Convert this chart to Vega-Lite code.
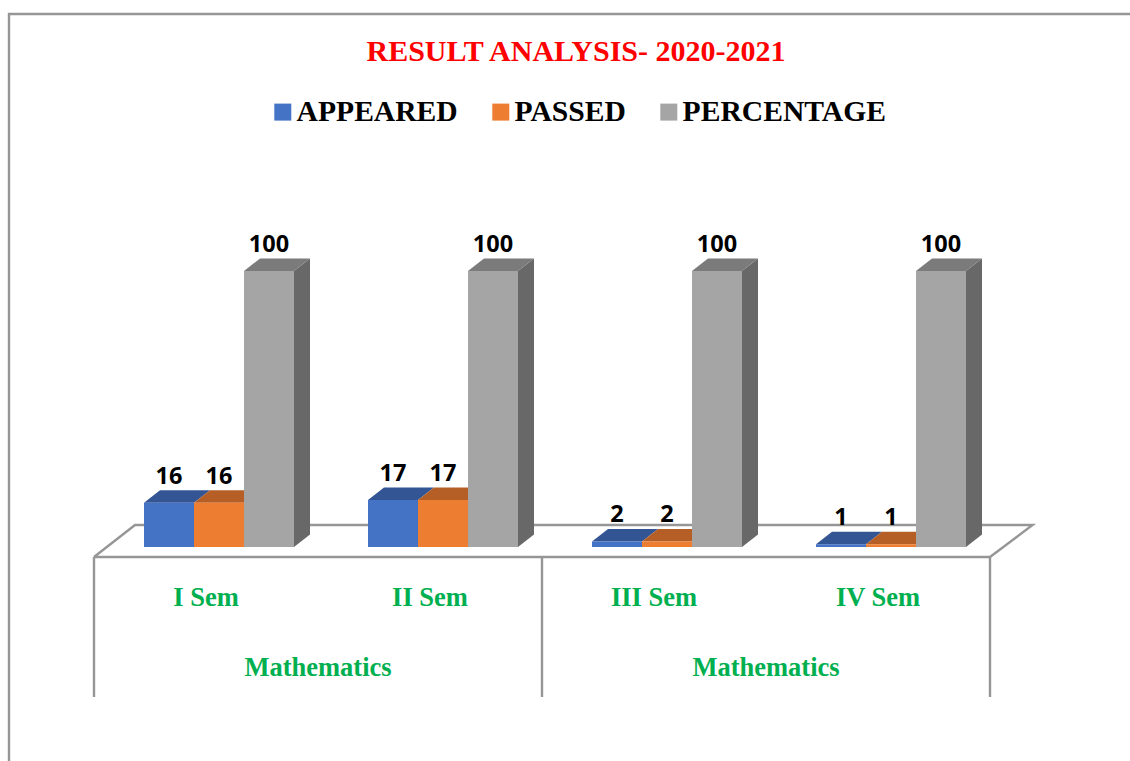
{"$schema":"https://vega.github.io/schema/vega-lite/v6.json","width":1130,"height":761,"padding":0,"autosize":{"type":"none"},"background":"white","config":{"view":{"stroke":null}},
"title":{"text":"RESULT ANALYSIS- 2020-2021","font":"Liberation Serif","fontWeight":"bold","fontSize":30,"color":"#FF0000","anchor":"middle","dx":11,"dy":67,"offset":0},
"datasets":{"bars":[
{"sem":"I Sem","series":"APPEARED","value":16},{"sem":"I Sem","series":"PASSED","value":16},{"sem":"I Sem","series":"PERCENTAGE","value":100},
{"sem":"II Sem","series":"APPEARED","value":17},{"sem":"II Sem","series":"PASSED","value":17},{"sem":"II Sem","series":"PERCENTAGE","value":100},
{"sem":"III Sem","series":"APPEARED","value":2},{"sem":"III Sem","series":"PASSED","value":2},{"sem":"III Sem","series":"PERCENTAGE","value":100},
{"sem":"IV Sem","series":"APPEARED","value":1},{"sem":"IV Sem","series":"PASSED","value":1},{"sem":"IV Sem","series":"PERCENTAGE","value":100}],
"outline":[
{"part":"frame","i":1,"slot":4.625,"v":193.12},{"part":"frame","i":2,"slot":-0.3795,"v":193.12},{"part":"frame","i":3,"slot":-0.3795,"v":-77.54},
{"part":"floor","i":1,"slot":0,"v":-3.62},{"part":"floor","i":2,"slot":4,"v":-3.62},{"part":"floor","i":3,"slot":4.19,"v":7.97},{"part":"floor","i":4,"slot":0.183,"v":7.97},{"part":"floor","i":5,"slot":0,"v":-3.62}],
"dividers":[{"slot":0,"v":-3.62,"v2":-54.35},{"slot":2,"v":-3.62,"v2":-54.35},{"slot":4,"v":-3.62,"v2":-54.35}],
"groups":[{"slot":1,"label":"Mathematics"},{"slot":3,"label":"Mathematics"}]},
"encoding":{},
"layer":[
{"data":{"name":"outline"},"mark":{"type":"line","stroke":"#969696","strokeWidth":2.4,"clip":false},
"encoding":{"x":{"field":"slot","type":"quantitative","scale":{"domain":[-0.41964,4.625],"nice":false,"zero":false},"axis":null},"y":{"field":"v","type":"quantitative","scale":{"domain":[-77.54,198.19],"nice":false,"zero":false},"axis":null},"detail":{"field":"part"},"order":{"field":"i","type":"ordinal"}}},
{"data":{"name":"dividers"},"mark":{"type":"rule","stroke":"#969696","strokeWidth":2.4},
"encoding":{"x":{"field":"slot","type":"quantitative","scale":{"domain":[-0.41964,4.625],"nice":false,"zero":false},"axis":null},"y":{"field":"v","type":"quantitative","scale":{"domain":[-77.54,198.19],"nice":false,"zero":false},"axis":null},"y2":{"field":"v2"}}},
{"data":{"name":"groups"},"mark":{"type":"text","font":"Liberation Serif","fontWeight":"bold","fontSize":26.5,"color":"#00B050","baseline":"middle"},
"encoding":{"x":{"field":"slot","type":"quantitative","scale":{"domain":[-0.41964,4.625],"nice":false,"zero":false},"axis":null},"y":{"datum":-43.9,"type":"quantitative","scale":{"domain":[-77.54,198.19],"nice":false,"zero":false},"axis":null},"text":{"field":"label"}}},
{"data":{"name":"bars"},"transform":[{"filter":"datum.series==='PERCENTAGE'"}],"mark":{"type":"point","filled":true,"opacity":1,"size":10000,"strokeWidth":0,"color":"#686868","shape":"M0.5,0 L0.82,-0.25 L0.82,5.27 L0.5,5.52 Z"},
"encoding":{"x":{"field":"sem","type":"nominal","bandPosition":0.5,"scale":{"type":"band","domain":["I Sem","II Sem","III Sem","IV Sem"],"paddingInner":0,"paddingOuter":0.5223,"align":0.4017},"axis":null},"xOffset":{"field":"series","type":"nominal","bandPosition":0.5,"scale":{"type":"band","domain":["APPEARED","PASSED","PERCENTAGE"],"paddingInner":0,"paddingOuter":0.74,"align":0.6757}},"y":{"field":"value","type":"quantitative","scale":{"domain":[-77.54,198.19],"nice":false,"zero":false},"axis":null}}},
{"data":{"name":"bars"},"mark":{"type":"point","filled":true,"opacity":1,"size":10000,"strokeWidth":0,"shape":"M-0.5,0 L0.5,0 L0.82,-0.25 L-0.18,-0.25 Z"},
"encoding":{"x":{"field":"sem","type":"nominal","bandPosition":0.5,"scale":{"type":"band","domain":["I Sem","II Sem","III Sem","IV Sem"],"paddingInner":0,"paddingOuter":0.5223,"align":0.4017},"axis":null},"xOffset":{"field":"series","type":"nominal","bandPosition":0.5,"scale":{"type":"band","domain":["APPEARED","PASSED","PERCENTAGE"],"paddingInner":0,"paddingOuter":0.74,"align":0.6757}},"y":{"field":"value","type":"quantitative","scale":{"domain":[-77.54,198.19],"nice":false,"zero":false},"axis":null},"color":{"field":"series","type":"nominal","scale":{"domain":["APPEARED","PASSED","PERCENTAGE"],"range":["#335593","#B55F26","#7B7B7B"]},"legend":null}}},
{"data":{"name":"bars"},"mark":{"type":"bar"},
"encoding":{"x":{"field":"sem","type":"nominal","scale":{"domain":["I Sem","II Sem","III Sem","IV Sem"],"paddingInner":0,"paddingOuter":0.5223,"align":0.4017},"axis":{"title":null,"domain":false,"ticks":false,"grid":false,"labelAngle":0,"labelFont":"Liberation Serif","labelFontWeight":"bold","labelFontSize":26.5,"labelColor":"#00B050","labelPadding":-177}},"xOffset":{"field":"series","type":"nominal","scale":{"domain":["APPEARED","PASSED","PERCENTAGE"],"paddingInner":0,"paddingOuter":0.74,"align":0.6757}},"y":{"field":"value","type":"quantitative","scale":{"domain":[-77.54,198.19],"nice":false,"zero":false},"axis":null},"color":{"field":"series","type":"nominal","scale":{"domain":["APPEARED","PASSED","PERCENTAGE"],"range":["#4472C4","#ED7D31","#A5A5A5"]},"legend":{"title":null,"orient":"none","direction":"horizontal","legendX":268,"legendY":97,"symbolType":"square","symbolSize":289,"symbolStrokeWidth":0,"labelFont":"Liberation Serif","labelFontWeight":"bold","labelFontSize":29.6,"labelColor":"#000000","labelOffset":-1,"columnPadding":28,"labelLimit":400}}}},
{"data":{"name":"bars"},"mark":{"type":"text","font":"Open Sans","fontWeight":"bold","fontSize":23.5,"color":"#000000","baseline":"middle","dy":-26},
"encoding":{"x":{"field":"sem","type":"nominal","bandPosition":0.5,"scale":{"type":"band","domain":["I Sem","II Sem","III Sem","IV Sem"],"paddingInner":0,"paddingOuter":0.5223,"align":0.4017},"axis":null},"xOffset":{"field":"series","type":"nominal","bandPosition":0.5,"scale":{"type":"band","domain":["APPEARED","PASSED","PERCENTAGE"],"paddingInner":0,"paddingOuter":0.74,"align":0.6757}},"y":{"field":"value","type":"quantitative","scale":{"domain":[-77.54,198.19],"nice":false,"zero":false},"axis":null},"text":{"field":"value","type":"quantitative"}}}
],
"resolve":{"scale":{"x":"independent","y":"shared","color":"independent","xOffset":"independent"},"axis":{"x":"independent"}}}
